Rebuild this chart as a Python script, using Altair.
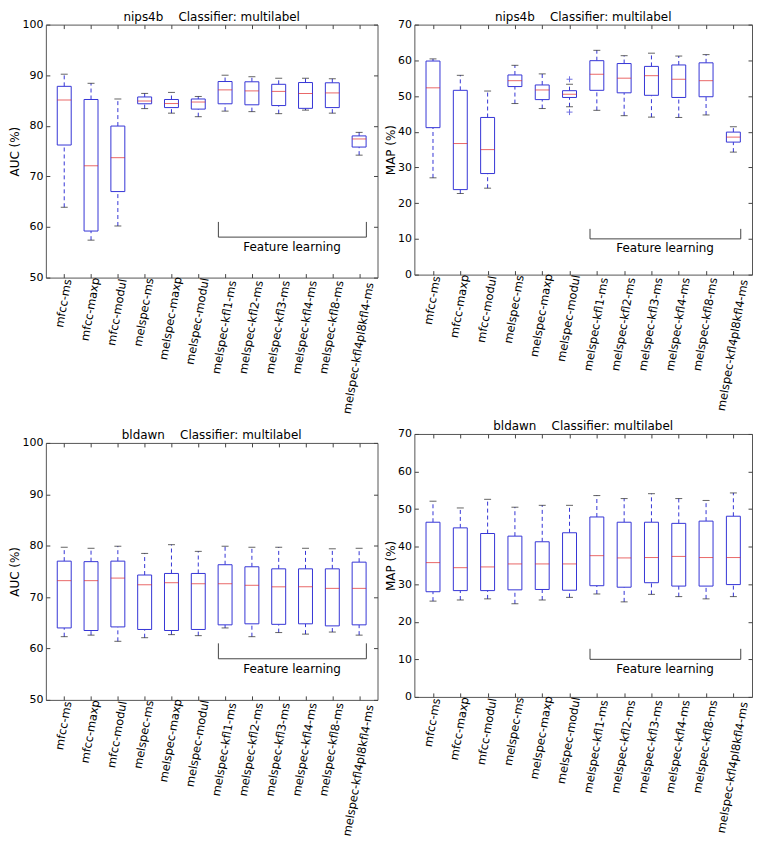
import altair as alt
import pandas as pd

categories = ["mfcc-ms", "mfcc-maxp", "mfcc-modul", "melspec-ms", "melspec-maxp",
              "melspec-modul", "melspec-kfl1-ms", "melspec-kfl2-ms", "melspec-kfl3-ms",
              "melspec-kfl4-ms", "melspec-kfl8-ms", "melspec-kfl4pl8kfl4-ms"]
positions = list(range(1, 13))

# nips4b AUC
nips_auc_lo = [63.9, 57.4, 60.2, 83.4, 82.5, 81.8, 82.9, 82.8, 82.4, 83.1, 82.5, 74.2]
nips_auc_q1 = [76.2, 59.2, 67.0, 84.35, 83.6, 83.3, 84.35, 84.15, 84.0, 83.45, 83.6, 75.8]
nips_auc_med = [85.1, 72.1, 73.7, 84.9, 84.4, 84.7, 87.1, 86.9, 86.8, 86.4, 86.5, 77.4]
nips_auc_q3 = [87.8, 85.2, 79.95, 85.7, 85.2, 85.3, 88.75, 88.7, 88.2, 88.55, 88.5, 78.0]
nips_auc_hi = [90.2, 88.4, 85.3, 86.4, 86.6, 85.8, 90.0, 89.7, 89.4, 89.4, 89.3, 78.7]

# nips4b MAP
nips_map_lo = [27.1, 22.7, 24.2, 47.9, 46.5, 47.0, 46.0, 44.5, 44.1, 44.0, 44.7, 34.3]
nips_map_q1 = [41.15, 23.8, 28.3, 52.65, 49.0, 49.6, 51.6, 50.9, 50.2, 49.6, 49.8, 37.1]
nips_map_med = [52.3, 36.7, 35.0, 54.3, 51.7, 50.5, 56.1, 55.0, 55.7, 54.7, 54.3, 38.5]
nips_map_q3 = [59.8, 51.6, 44.0, 55.9, 53.1, 51.5, 59.9, 59.1, 58.3, 58.7, 59.3, 39.9]
nips_map_hi = [60.4, 55.8, 51.4, 58.6, 56.2, 53.3, 62.8, 61.3, 62.0, 61.2, 61.6, 41.4]
nips_map_flier_pos = [6, 6]
nips_map_flier_val = [54.7, 45.5]

# bldawn AUC
bld_auc_lo = [62.3, 62.6, 61.4, 62.1, 62.7, 62.5, 64.0, 62.3, 63.1, 62.8, 63.2, 62.6]
bld_auc_q1 = [64.0, 63.5, 64.2, 63.7, 63.5, 63.7, 64.6, 64.8, 64.7, 64.8, 64.4, 64.6]
bld_auc_med = [73.2, 73.2, 73.7, 72.4, 72.8, 72.6, 72.6, 72.3, 72.0, 72.0, 71.7, 71.7]
bld_auc_q3 = [77.0, 76.9, 77.0, 74.3, 74.6, 74.6, 76.3, 75.9, 75.5, 75.5, 75.5, 76.8]
bld_auc_hi = [79.7, 79.5, 79.9, 78.5, 80.2, 78.9, 79.9, 79.7, 79.7, 79.5, 79.4, 79.5]

# bldawn MAP
bld_map_lo = [25.5, 25.8, 26.1, 24.8, 25.8, 26.5, 27.4, 25.3, 27.3, 26.7, 26.1, 26.7]
bld_map_q1 = [28.0, 28.3, 28.3, 28.5, 28.6, 28.4, 29.6, 29.2, 30.4, 29.5, 29.5, 29.9]
bld_map_med = [35.75, 34.4, 34.6, 35.4, 35.4, 35.4, 37.6, 37.0, 37.1, 37.4, 37.1, 37.1]
bld_map_q3 = [46.5, 45.0, 43.5, 42.8, 41.3, 43.7, 47.9, 46.5, 46.5, 46.2, 46.8, 48.1]
bld_map_hi = [52.1, 50.3, 52.6, 50.5, 51.0, 51.0, 53.6, 52.8, 54.1, 52.8, 52.3, 54.3]

# "Feature learning" bracket (data coordinates)
bracket_x = [6.75, 12.27]
auc_bracket_y = [58.0, 61.0]
map_bracket_y = [10.0, 12.8]
bracket_text = "Feature learning"
bracket_text_x = 9.5
auc_text_y = 56.0
map_text_y = 7.5

FONT = "DejaVu Sans"
BLUE = "#3434d6"
RED = "#e02828"
CAP = "#222222"
FRAME = "#555555"
SP = "\u00a0\u00a0\u00a0\u00a0"


def panel(title, ylabel, ymin, ymax, lo, q1, med, q3, hi, bracket_y, text_y,
          width, height, flier_pos=None, flier_val=None):
    df = pd.DataFrame({"pos": positions, "name": categories, "lo": lo, "q1": q1,
                       "med": med, "q3": q3, "hi": hi})
    base = alt.Chart(df)
    xs = alt.Scale(domain=[0.5, 12.5], nice=False, zero=False)
    ys = alt.Scale(domain=[ymin, ymax], nice=False, zero=False)
    yvals = list(range(ymin, ymax + 1, 10))

    whisk_lo = base.mark_rule(color=BLUE, strokeWidth=1, strokeDash=[4, 3]).encode(
        x=alt.X("pos:Q", scale=xs, axis=None),
        y=alt.Y("lo:Q", scale=ys, axis=None), y2="q1:Q")
    whisk_hi = base.mark_rule(color=BLUE, strokeWidth=1, strokeDash=[4, 3]).encode(
        x=alt.X("pos:Q", scale=xs, axis=None),
        y=alt.Y("q3:Q", scale=ys, axis=None), y2="hi:Q")
    cap_lo = base.mark_tick(orient="horizontal", size=7, thickness=1, color=CAP).encode(
        x=alt.X("pos:Q", scale=xs, axis=None),
        y=alt.Y("lo:Q", scale=ys, axis=None))
    cap_hi = base.mark_tick(orient="horizontal", size=7, thickness=1, color=CAP).encode(
        x=alt.X("pos:Q", scale=xs, axis=None),
        y=alt.Y("hi:Q", scale=ys, axis=None))
    box = base.mark_bar(size=14, fill="white", stroke=BLUE, strokeWidth=1).encode(
        x=alt.X("pos:Q", scale=xs,
                axis=alt.Axis(values=positions, labels=False, title=None, grid=False,
                              domain=False, ticks=True, tickSize=4, offset=-4,
                              minExtent=0, maxExtent=0)),
        y=alt.Y("q1:Q", scale=ys,
                axis=alt.Axis(values=yvals, grid=False, domain=False, tickSize=4,
                              offset=-4, title=ylabel, labelPadding=3, titlePadding=0)),
        y2="q3:Q")
    median = base.mark_tick(orient="horizontal", size=14, thickness=1, color=RED).encode(
        x=alt.X("pos:Q", scale=xs,
                axis=alt.Axis(orient="top", values=positions, labels=False, title=None,
                              grid=False, domain=False, tickSize=4, offset=-4,
                              minExtent=0, maxExtent=0, labelPadding=0)),
        y=alt.Y("med:Q", scale=ys,
                axis=alt.Axis(orient="right", values=yvals, labels=False, title=None,
                              grid=False, domain=False, tickSize=4, offset=-4,
                              minExtent=0, maxExtent=0, labelPadding=0)))
    layers = [whisk_lo, whisk_hi, cap_lo, cap_hi, box, median]

    if flier_pos:
        fdf = pd.DataFrame({"pos": flier_pos, "val": flier_val})
        layers.append(alt.Chart(fdf).mark_point(
            shape="M-1,0L1,0M0,-1L0,1", filled=False, size=36, stroke=BLUE,
            strokeWidth=1).encode(
            x=alt.X("pos:Q", scale=xs, axis=None),
            y=alt.Y("val:Q", scale=ys, axis=None)))

    bh = pd.DataFrame({"x": [bracket_x[0]], "x2": [bracket_x[1]], "y": [bracket_y[0]]})
    bv = pd.DataFrame({"x": bracket_x, "y": [bracket_y[0]] * 2, "y2": [bracket_y[1]] * 2})
    bt = pd.DataFrame({"x": [bracket_text_x], "y": [text_y], "t": [bracket_text]})
    layers.append(alt.Chart(bh).mark_rule(color="#444444", strokeWidth=1).encode(
        x=alt.X("x:Q", scale=xs, axis=None), x2="x2:Q",
        y=alt.Y("y:Q", scale=ys, axis=None)))
    layers.append(alt.Chart(bv).mark_rule(color="#444444", strokeWidth=1).encode(
        x=alt.X("x:Q", scale=xs, axis=None),
        y=alt.Y("y:Q", scale=ys, axis=None), y2="y2:Q"))
    layers.append(alt.Chart(bt).mark_text(font=FONT, fontSize=12, color="black",
                                          baseline="middle", align="center").encode(
        x=alt.X("x:Q", scale=xs, axis=None),
        y=alt.Y("y:Q", scale=ys, axis=None), text="t:N"))

    # rotated category labels, bounding box centred under each tick
    layers.append(base.mark_text(
        font=FONT, fontSize=11.5, color="black", angle=280, align="center",
        baseline="middle",
        dx=alt.ExprRef(expr="-0.985*(5 + length(datum.name)*3.0)"),
        dy=alt.ExprRef(expr="0.174*(5 + length(datum.name)*3.0)")).encode(
        x=alt.X("pos:Q", scale=xs, axis=None),
        y=alt.Y(datum=ymin, scale=ys, axis=None),
        text="name:N"))

    return alt.layer(*layers).resolve_axis(x="independent", y="independent").properties(
        width=width, height=height,
        title=alt.TitleParams(title, offset=-5, font=FONT, fontSize=12,
                              fontWeight="normal", color="black"))


tl = panel("nips4b" + SP + "Classifier: multilabel", "AUC (%)", 50, 100,
           nips_auc_lo, nips_auc_q1, nips_auc_med, nips_auc_q3, nips_auc_hi,
           auc_bracket_y, auc_text_y, 333, 254)
tr = panel("nips4b" + SP + "Classifier: multilabel", "MAP (%)", 0, 70,
           nips_map_lo, nips_map_q1, nips_map_med, nips_map_q3, nips_map_hi,
           map_bracket_y, map_text_y, 339, 251, nips_map_flier_pos, nips_map_flier_val)
bl = panel("bldawn" + SP + "Classifier: multilabel", "AUC (%)", 50, 100,
           bld_auc_lo, bld_auc_q1, bld_auc_med, bld_auc_q3, bld_auc_hi,
           auc_bracket_y, auc_text_y, 333, 258)
br = panel("bldawn" + SP + "Classifier: multilabel", "MAP (%)", 0, 70,
           bld_map_lo, bld_map_q1, bld_map_med, bld_map_q3, bld_map_hi,
           map_bracket_y, map_text_y, 339, 264)

left = alt.vconcat(tl, bl, spacing=12)
right = alt.vconcat(tr, br, spacing=6)

chart = alt.hconcat(left, right, spacing=5).properties(
    padding={"left": 0, "top": 0, "right": 0, "bottom": 0}
).configure_view(stroke=FRAME, strokeWidth=1).configure_axis(
    labelFont=FONT, labelFontSize=11, labelColor="black", titleFont=FONT,
    titleFontSize=12, titleFontWeight="normal", titleColor="black",
    tickColor="#444444", tickWidth=1
).configure_title(font=FONT, fontSize=12, fontWeight="normal", color="black")

chart.save("out.html", embed_options={"renderer": "svg", "actions": False})
